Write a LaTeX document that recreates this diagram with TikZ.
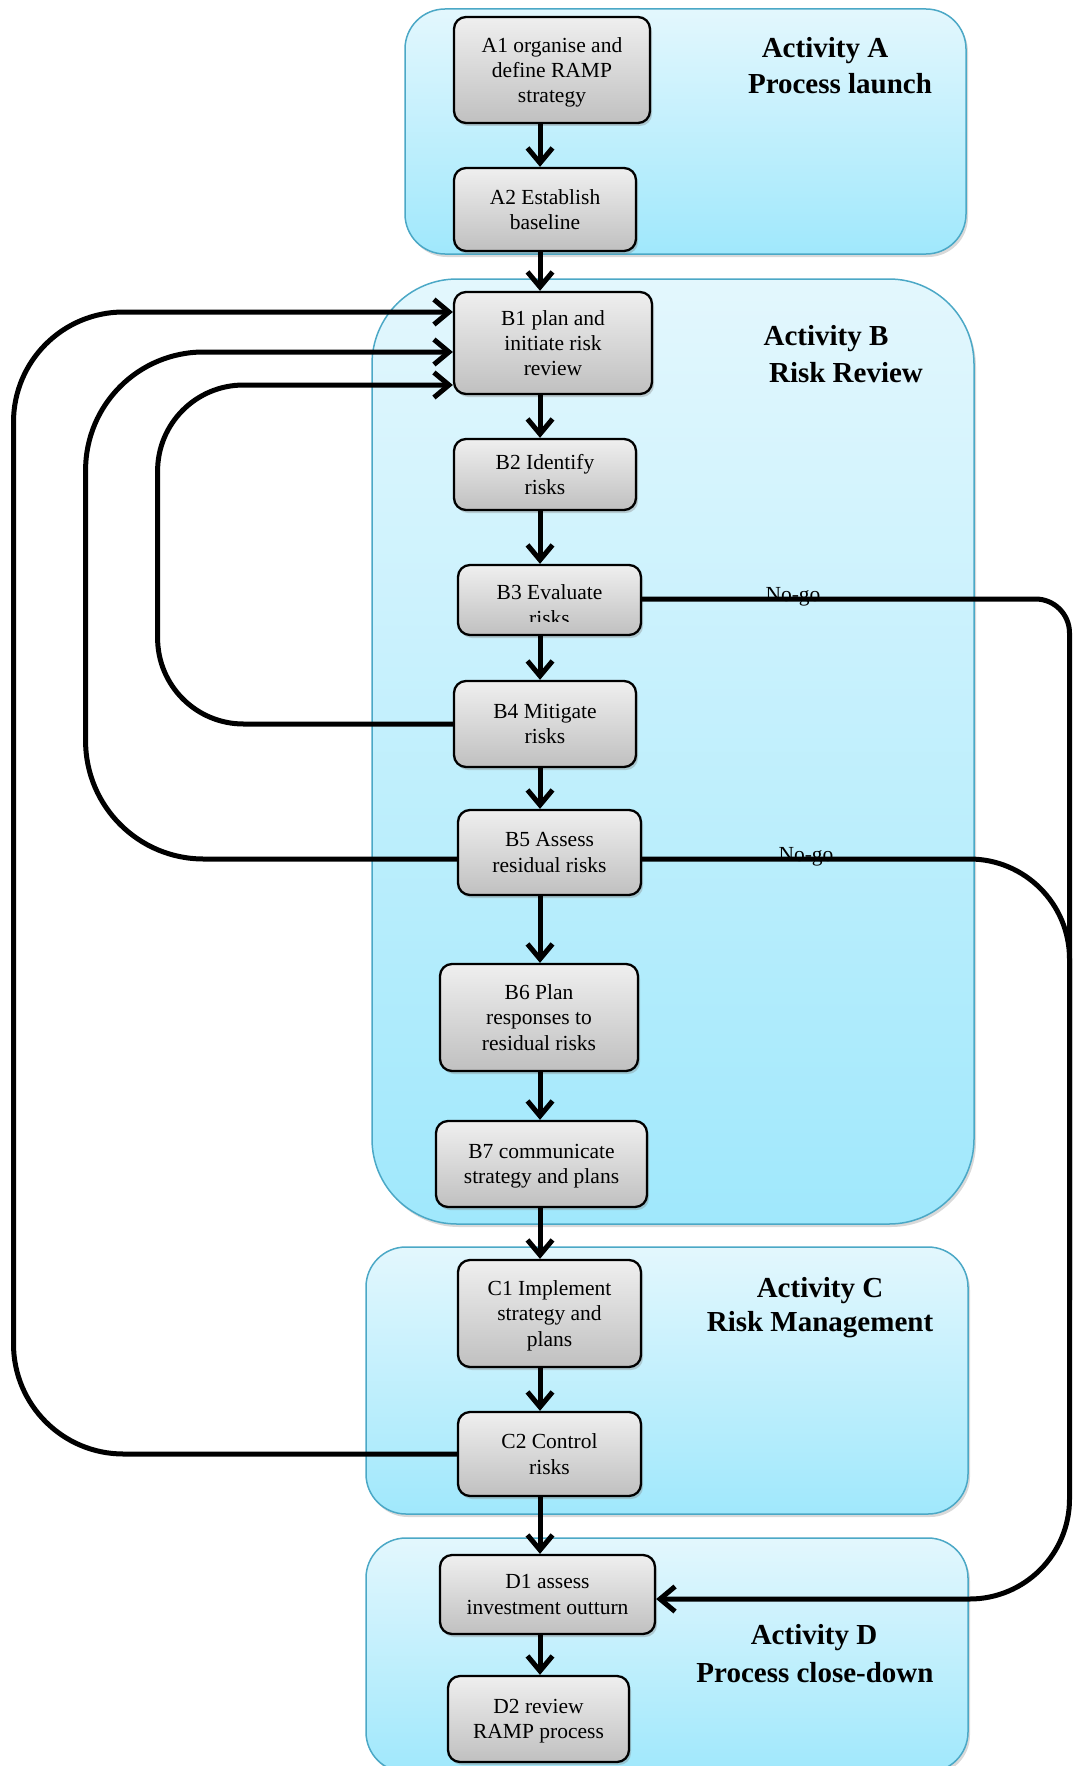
\documentclass[tikz,border=0pt]{standalone}
\usepackage{fontspec}
\setmainfont{Liberation Serif}
\usetikzlibrary{arrows.meta,shadows}

\definecolor{cyantop}{HTML}{E3F7FD}
\definecolor{cyanbot}{HTML}{A0E8FC}
\definecolor{cyanedge}{HTML}{4BA8C6}
\definecolor{greytop}{HTML}{EFEFEF}
\definecolor{greybot}{HTML}{C0C0C0}

\newcommand\bxfont{\fontsize{21.5}{25.3}\selectfont}
\newcommand\ttlfont{\fontsize{29}{34}\selectfont\bfseries}

\begin{document}
\begin{tikzpicture}[x=1pt,y=-1pt,
  panel/.style={draw=cyanedge, line width=1.5pt, top color=cyantop, bottom color=cyanbot,
    drop shadow={shadow xshift=2pt,shadow yshift=-3pt,opacity=0.3}},
  stepbox/.style={draw=black, line width=2.3pt, rounded corners=12pt,
    top color=greytop, bottom color=greybot, align=center, font=\bxfont,
    inner sep=2pt, text depth=-4pt,
    drop shadow={shadow xshift=2pt,shadow yshift=-3pt,opacity=0.35}},
  title/.style={font=\ttlfont, inner sep=0pt},
  flow/.style={line width=5pt, -{Straight Barb[length=15pt,width=25pt]}},
  loopline/.style={line width=5pt, -{Straight Barb[length=15pt,width=25pt]}},
  note/.style={font=\bxfont, inner sep=0pt, anchor=base}
]
\useasboundingbox (0,0) rectangle (1073,1766);

% activity panels
\node[panel, rounded corners=40pt, minimum width=561pt, minimum height=245pt] (pA) at (685.5,131.5) {};
\node[panel, rounded corners=85pt, minimum width=602pt, minimum height=945pt] (pB) at (673,751.5) {};
\node[panel, rounded corners=40pt, minimum width=602pt, minimum height=267pt] (pC) at (667,1380.5) {};
\node[panel, rounded corners=40pt, minimum width=602pt, minimum height=234pt] (pD) at (667,1655) {};

% panel titles
\node[title] (tA1) at (825,51) {Activity A};
\node[title] (tA2) at (840,84) {Process launch};
\node[title] (tB1) at (826,339) {Activity B};
\node[title] (tB2) at (846,373) {Risk Review};
\node[title] (tC1) at (820,1291) {Activity C};
\node[title] (tC2) at (820,1325) {Risk Management};
\node[title] (tD1) at (814,1638) {Activity D};
\node[title] (tD2) at (815,1673) {Process close-down};

% process steps
\node[stepbox, minimum width=196pt, minimum height=106pt] (A1) at (552,70) {A1 organise and\\define RAMP\\strategy};
\node[stepbox, minimum width=182pt, minimum height=83pt] (A2) at (545,209.5) {A2 Establish\\baseline};
\node[stepbox, minimum width=198pt, minimum height=102pt] (B1) at (553,343) {B1 plan and\\initiate risk\\review};
\node[stepbox, minimum width=182pt, minimum height=71pt] (B2) at (545,474.5) {B2 Identify\\risks};
\node[stepbox, minimum width=183pt, minimum height=70pt] (B3) at (549.5,600) {};
\node[stepbox, minimum width=182pt, minimum height=86pt] (B4) at (545,724) {B4 Mitigate\\risks};
\node[stepbox, minimum width=183pt, minimum height=85pt] (B5) at (549.5,852.5) {B5 Assess\\residual risks};
\node[stepbox, minimum width=198pt, minimum height=107pt] (B6) at (539,1017.5) {B6 Plan\\responses to\\residual risks};
\node[stepbox, minimum width=211pt, minimum height=86pt] (B7) at (541.5,1164) {B7 communicate\\strategy and plans};
\node[stepbox, minimum width=183pt, minimum height=107pt] (C1) at (549.5,1313.5) {C1 Implement\\strategy and\\plans};
\node[stepbox, minimum width=183pt, minimum height=84pt] (C2) at (549.5,1454) {C2 Control\\risks};
\node[stepbox, minimum width=215pt, minimum height=79pt] (D1) at (547.5,1594.5) {D1 assess\\investment outturn};
\node[stepbox, minimum width=181pt, minimum height=86pt] (D2) at (538.5,1719) {D2 review\\RAMP process};

% B3 label, cut off at the lower edge of its text frame
\begin{scope}
  \clip (458,565) rectangle (641,621);
  \node[align=center, font=\bxfont, inner sep=0pt] (B3t) at (549.5,605) {B3 Evaluate\\risks};
\end{scope}

% main flow
\coordinate (ax) at (540,0);
\draw[flow] (A1.south -| ax) -- (A2.north -| ax);
\draw[flow] (A2.south -| ax) -- (B1.north -| ax);
\draw[flow] (B1.south -| ax) -- (B2.north -| ax);
\draw[flow] (B2.south -| ax) -- (B3.north -| ax);
\draw[flow] (B3.south -| ax) -- (B4.north -| ax);
\draw[flow] (B4.south -| ax) -- (B5.north -| ax);
\draw[flow] (B5.south -| ax) -- (B6.north -| ax);
\draw[flow] (B6.south -| ax) -- (B7.north -| ax);
\draw[flow] (B7.south -| ax) -- (C1.north -| ax);
\draw[flow] (C1.south -| ax) -- (C2.north -| ax);
\draw[flow] (C2.south -| ax) -- (D1.north -| ax);
\draw[flow] (D1.south -| ax) -- (D2.north -| ax);

% feedback loops back to B1
\draw[loopline, rounded corners=110pt] (C2.west) -- (13.5,1454) -- (13.5,312) -- (B1.west |- 0,312);
\draw[loopline, rounded corners=118pt] (B5.west |- 0,859) -- (85.6,859) -- (85.6,352) -- (B1.west |- 0,352);
\draw[loopline, rounded corners=86pt] (B4.west) -- (157.6,724) -- (157.6,385) -- (B1.west |- 0,385);

% no-go exits to close-down
\draw[line width=5pt, rounded corners=34pt] (B3.east |- 0,599) -- (1069.5,599) -- (1069.5,1300);
\draw[loopline, rounded corners=100pt] (B5.east |- 0,859) -- (1069.5,859) -- (1069.5,1599) -- (D1.east |- 0,1599);
\node[note] (ng1) at (793,601) {No-go};
\node[note] (ng2) at (806,861) {No-go};
\end{tikzpicture}
\end{document}
